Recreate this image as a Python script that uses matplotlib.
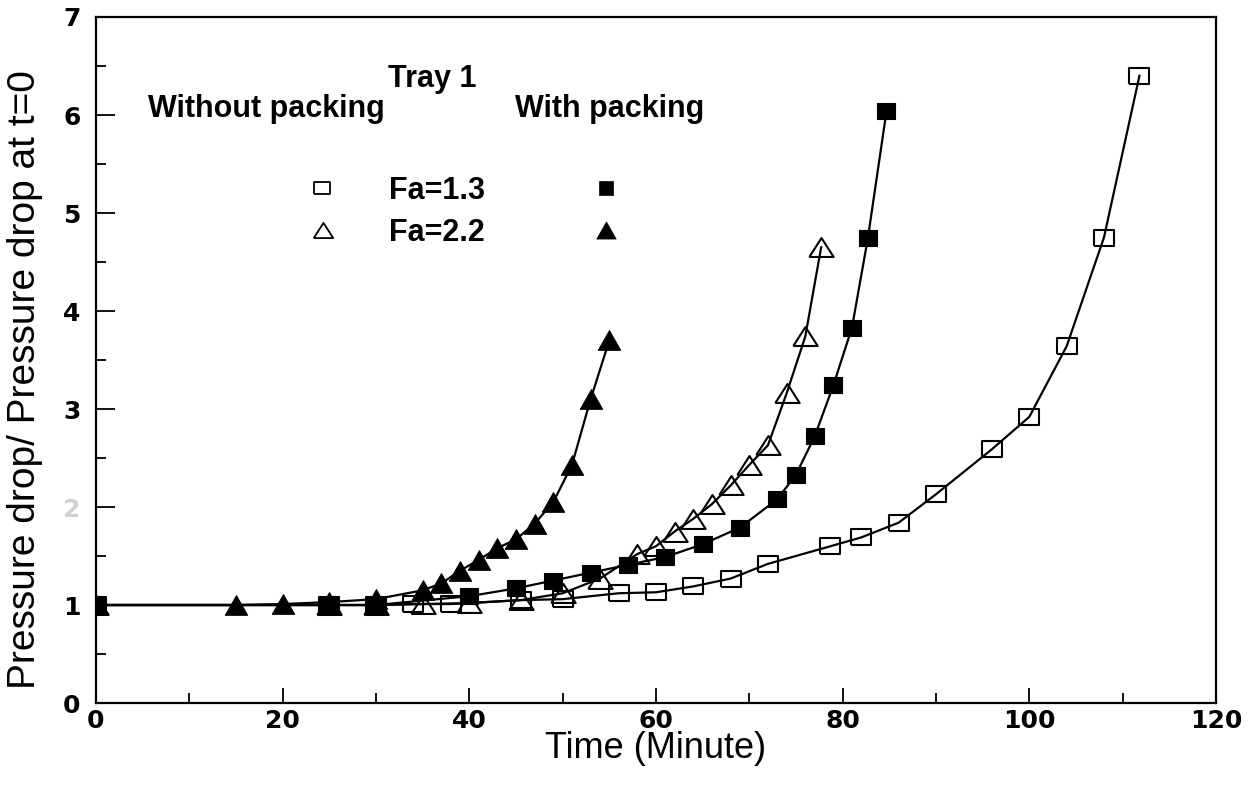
import matplotlib
matplotlib.use("Agg")
import matplotlib.pyplot as plt
from matplotlib.ticker import MultipleLocator

# Tray 1: pressure drop ratio vs time
t_open_sq = [0, 25, 30, 34, 38, 45.5, 50, 56, 60, 64, 68, 72, 78.7, 82, 86, 90, 96, 100, 104, 108, 111.8]
p_open_sq = [1.0, 1.0, 1.0, 1.01, 1.01, 1.05, 1.06, 1.12, 1.13, 1.19, 1.27, 1.42, 1.60, 1.69, 1.84, 2.13, 2.59, 2.92, 3.64, 4.75, 6.40]

t_open_tri = [0, 25, 30, 35, 40, 45.5, 50, 54, 58, 60, 62, 64, 66, 68, 70, 72, 74, 76, 77.7]
p_open_tri = [1.0, 1.0, 1.0, 1.01, 1.02, 1.05, 1.12, 1.27, 1.52, 1.60, 1.75, 1.88, 2.03, 2.22, 2.43, 2.63, 3.16, 3.74, 4.65]

t_fill_sq = [0, 25, 30, 40, 45, 49, 53, 57, 61, 65, 69, 73, 75, 77, 79, 81, 82.7, 84.7]
p_fill_sq = [1.0, 1.0, 1.0, 1.09, 1.17, 1.25, 1.33, 1.41, 1.49, 1.62, 1.79, 2.08, 2.33, 2.72, 3.24, 3.83, 4.74, 6.04]

t_fill_tri = [0, 15, 20, 25, 30, 35, 37, 39, 41, 43, 45, 47, 49, 51, 53, 55]
p_fill_tri = [1.0, 1.0, 1.01, 1.03, 1.06, 1.15, 1.22, 1.35, 1.46, 1.58, 1.67, 1.83, 2.05, 2.43, 3.10, 3.70]

x_ticks = [0, 20, 40, 60, 80, 100, 120]
y_ticks = [0, 1, 2, 3, 4, 5, 6, 7]

rect = [(-1, -0.75), (1, -0.75), (1, 0.75), (-1, 0.75), (-1, -0.75)]
sq = [(-1, -0.92), (1, -0.92), (1, 0.92), (-1, 0.92), (-1, -0.92)]
tri_o = [(-1, -0.78), (1, -0.78), (0, 0.78), (-1, -0.78)]
tri_f = [(-1, -0.88), (1, -0.88), (0, 0.88), (-1, -0.88)]

fig = plt.figure(figsize=(12.51, 7.87), dpi=100)
ax = fig.add_axes([0.0767, 0.1067, 0.8953, 0.8717])

line_kw = dict(color="black", lw=1.6)
ax.plot(t_open_sq, p_open_sq, marker=rect, ms=14.5, mfc="none", mec="black", mew=1.5, **line_kw)
ax.plot(t_fill_sq, p_fill_sq, marker=sq, ms=13, mfc="black", mec="black", mew=0.8, **line_kw)
ax.plot(t_open_tri, p_open_tri, marker=tri_o, ms=17.5, mfc="none", mec="black", mew=1.5, **line_kw)
ax.plot(t_fill_tri, p_fill_tri, marker=tri_f, ms=16, mfc="black", mec="black", mew=0.8, **line_kw)

ax.set_xlim(0, 120)
ax.set_ylim(0, 7)
ax.set_xticks(x_ticks)
ax.set_yticks(y_ticks)
ax.xaxis.set_minor_locator(MultipleLocator(10))
ax.yaxis.set_minor_locator(MultipleLocator(0.5))
ax.tick_params(axis="x", which="major", direction="in", length=11, width=1.3, pad=4)
ax.tick_params(axis="x", which="minor", direction="in", length=7, width=1.3)
ax.tick_params(axis="y", which="major", direction="in", length=14, width=1.3, pad=11)
ax.tick_params(axis="y", which="minor", direction="in", length=7, width=1.3)
for s in ax.spines.values():
    s.set_linewidth(1.6)

for lab in ax.get_xticklabels() + ax.get_yticklabels():
    lab.set_fontfamily("DejaVu Sans")
    lab.set_fontweight("bold")
    lab.set_fontsize(18)
ax.get_yticklabels()[2].set_color("#d0d0d0")

ax.set_xlabel("Time (Minute)", fontsize=26, family="Liberation Sans", labelpad=-1)
ax.set_ylabel("Pressure drop/ Pressure drop at t=0", fontsize=28, family="Liberation Sans")
ax.yaxis.set_label_coords(-0.047, 0.472)

tkw = dict(transform=ax.transAxes, fontsize=22, fontweight="bold", family="Liberation Sans", va="baseline")
ax.text(0.30, 0.898, "Tray 1", ha="center", **tkw)
ax.text(0.152, 0.854, "Without packing", ha="center", **tkw)
ax.text(0.459, 0.854, "With packing", ha="center", **tkw)
ax.text(0.2616, 0.7347, "Fa=1.3", ha="left", **tkw)
ax.text(0.2616, 0.6735, "Fa=2.2", ha="left", **tkw)

mk = dict(transform=ax.transAxes, ls="none", clip_on=False)
ax.plot([0.2018], [0.7507], marker=rect, ms=12, mfc="none", mec="black", mew=1.3, **mk)
ax.plot([0.4554], [0.7507], marker=sq, ms=10.5, mfc="black", mec="black", mew=0.5, **mk)
ax.plot([0.2027], [0.6895], marker=tri_o, ms=14, mfc="none", mec="black", mew=1.3, **mk)
ax.plot([0.4554], [0.6895], marker=tri_f, ms=14, mfc="black", mec="black", mew=0.5, **mk)

fig.savefig("out.png", dpi=100)
